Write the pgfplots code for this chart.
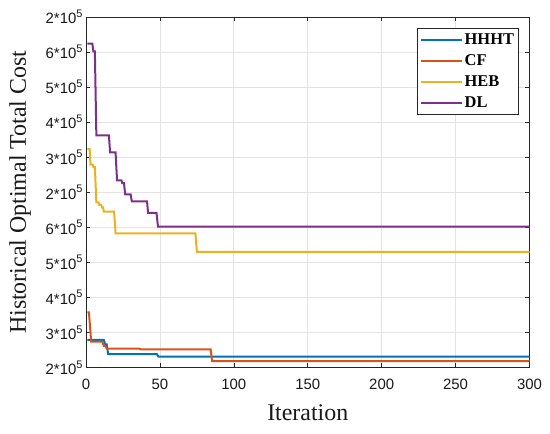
\documentclass[border=0pt]{standalone}
\usepackage{pgfplots}
\pgfplotsset{compat=1.18}
\usepackage{fontspec}
\setmainfont{Liberation Serif}
\setsansfont{Liberation Sans}
\definecolor{cA}{rgb}{0,0.447,0.741}
\definecolor{cB}{rgb}{0.85,0.325,0.098}
\definecolor{cC}{rgb}{0.929,0.694,0.125}
\definecolor{cD}{rgb}{0.494,0.184,0.556}
\definecolor{axc}{rgb}{0.15,0.15,0.15}
\newcommand{\tl}[1]{#1*10\raisebox{0.42em}{\fontsize{11}{11}\selectfont 5}}
\begin{document}
\begin{tikzpicture}
\begin{axis}[
  name=ax,
  scale only axis,
  width=443.5bp, height=350.5bp,
  xmin=0, xmax=300, ymin=0, ymax=10,
  xtick={0,50,...,300},
  ytick={0,1,...,10},
  yticklabels={\tl{2},\tl{3},\tl{4},\tl{5},\tl{6},\tl{2},\tl{3},\tl{4},\tl{5},\tl{6},\tl{2}},
  tick align=inside,
  major tick length=4.5bp,
  tick style={axc, line width=0.6bp},
  axis line style={axc, line width=0.8bp},
  grid=major,
  major grid style={gray!22, line width=0.7bp},
  /pgf/number format/assume math mode=true,
  tick label style={font=\fontsize{15}{17}\selectfont\sffamily, text=black!90},
  xticklabel style={yshift=-8bp},
  xlabel={Iteration},
  ylabel={Historical Optimal Total Cost},
  label style={font=\fontsize{24}{28}\selectfont, text=black!90},
  xlabel style={at={(axis description cs:0.5,0)}, anchor=base, yshift=-52.5bp},
  ylabel style={at={(axis description cs:-0.1488,0.5)}, anchor=center},
  legend style={at={(1,1)}, anchor=north east, xshift=-11.2bp, yshift=-11.3bp,
    draw=axc, line width=0.6bp, font=\fontsize{16.5}{18}\selectfont\bfseries,
    inner xsep=2bp, inner ysep=3.5bp, row sep=4.5bp},
  legend cell align=left,
  legend image code/.code={\draw[#1, line width=2bp] (0bp,0bp) -- (41bp,0bp);},
]
\addplot[cA, line width=2bp] coordinates {(1,0.79) (12,0.79) (13,0.66) (14,0.66) (15,0.38) (48,0.38) (49,0.31) (300,0.31)};
\addlegendentry{HHHT}
\addplot[cB, line width=2bp] coordinates {(1,1.57) (2,1.57) (3.5,0.74) (11,0.74) (12,0.62) (13,0.62) (14,0.54) (36,0.54) (37,0.52) (84.3,0.52) (85.3,0.18) (300,0.18)};
\addlegendentry{CF}
\addplot[cC, line width=2bp] coordinates {(1,6.23) (2.5,6.23) (3,5.79) (4.5,5.79) (5,5.72) (6,5.72) (7,4.71) (8.5,4.71) (9,4.64) (10.3,4.64) (10.8,4.57) (11.5,4.57) (12,4.45) (19,4.45) (20,3.83) (74,3.83) (75,3.30) (300,3.30)};
\addlegendentry{HEB}
\addplot[cD, line width=2bp] coordinates {(1,9.24) (4.3,9.24) (5,9.02) (6,9.02) (7,6.62) (15.5,6.62) (16.3,6.14) (20,6.14) (21,5.34) (24,5.34) (24.5,5.26) (25.7,5.26) (26.5,4.94) (30.2,4.94) (31,4.74) (41.3,4.74) (42,4.41) (47.7,4.41) (48.7,4.02) (300,4.02)};
\addlegendentry{DL}
\end{axis}
\pgfresetboundingbox
\path[use as bounding box] ([xshift=-86bp,yshift=-66.5bp]ax.south west) rectangle ([xshift=20.5bp,yshift=17bp]ax.north east);
\end{tikzpicture}
\end{document}
